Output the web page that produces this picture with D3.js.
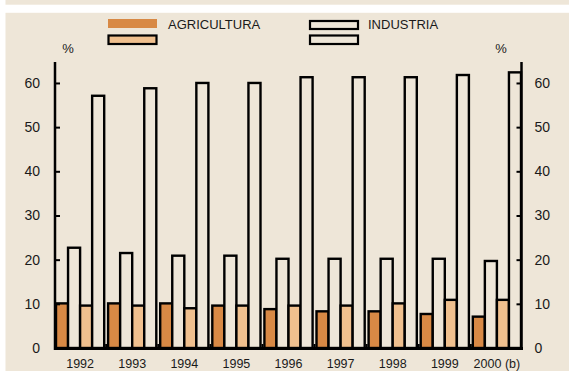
<!DOCTYPE html>
<html>
  <head>
    <meta charset="utf-8">
    <title>agricultura-industria</title>
    <script type="text/javascript" src="https://cdn.jsdelivr.net/npm/d3@7/dist/d3.min.js"></script>
    <style type="text/css">
            body { margin: 0; background: #ffffff; }
            svg text {
                font-family: "Liberation Sans", Arial, sans-serif;
                fill: #1a1a1a;
            }
            .axis path { display: none; }
            .axis line { stroke: #000; stroke-width: 2; }
            .axis text { font-size: 14px; }
    </style>
  </head>
  <body>
    <script type="text/javascript">
            var w = 569;
            var h = 371;

            // datos
            var years = ["1992", "1993", "1994", "1995", "1996", "1997", "1998", "1999", "2000 (b)"];
            var agri1 = [10.1, 10.1, 10.1, 9.6, 8.8, 8.3, 8.3, 7.7, 7.1];
            var ind1  = [22.7, 21.5, 20.9, 20.9, 20.2, 20.2, 20.2, 20.2, 19.7];
            var agri2 = [9.6, 9.6, 9.0, 9.6, 9.6, 9.6, 10.1, 10.9, 10.9];
            var ind2  = [57.1, 58.8, 60.0, 60.0, 61.3, 61.3, 61.3, 61.8, 62.4];
            var yTicks = [0, 10, 20, 30, 40, 50, 60];

            var bg = "#eee6d8";
            var dark = "#d88945";
            var light = "#f0c08e";

            var svg = d3.select("body")
                        .append("svg")
                        .attr("width", w)
                        .attr("height", h);

            // fondo
            svg.append("rect").attr("x", 5.5).attr("y", 0).attr("width", w).attr("height", 4.7).attr("fill", bg);
            svg.append("rect").attr("x", 5.5).attr("y", 12.8).attr("width", w).attr("height", h).attr("fill", bg);

            var x0 = d3.scaleBand()
                       .domain(years)
                       .range([56, 521])
                       .paddingInner(0.075)
                       .paddingOuter(0);
            var series = ["a1", "i1", "a2", "i2"];
            var x1 = d3.scaleBand()
                       .domain(series)
                       .range([0, x0.bandwidth()]);
            var y = d3.scaleLinear()
                      .domain([0, 64.7])
                      .range([348, 62.2]);

            var rows = years.map(function(yr, i) {
                return [
                    { year: yr, key: "a1", v: agri1[i], fill: dark },
                    { year: yr, key: "i1", v: ind1[i], fill: bg },
                    { year: yr, key: "a2", v: agri2[i], fill: light },
                    { year: yr, key: "i2", v: ind2[i], fill: bg }
                ];
            });

            // barras
            svg.append("g")
               .selectAll("g")
               .data(rows)
               .enter()
               .append("g")
               .selectAll("rect")
               .data(function(d) { return d; })
               .enter()
               .append("rect")
               .attr("x", function(d) { return x0(d.year) + x1(d.key); })
               .attr("y", function(d) { return y(d.v); })
               .attr("width", x1.bandwidth())
               .attr("height", function(d) { return y(0) - y(d.v); })
               .attr("fill", function(d) { return d.fill; })
               .attr("stroke", "#000")
               .attr("stroke-width", 2.4);

            // ejes
            var left = svg.append("g")
                .attr("class", "axis")
                .attr("transform", "translate(55,0)")
                .call(d3.axisRight(y).tickValues(yTicks).tickSize(5).tickFormat(d3.format("d")));
            left.selectAll("text").attr("x", -15).attr("text-anchor", "end");

            var right = svg.append("g")
                .attr("class", "axis")
                .attr("transform", "translate(521.5,0)")
                .call(d3.axisLeft(y).tickValues(yTicks).tickSize(5).tickFormat(d3.format("d")));
            right.selectAll("text").attr("x", 13).attr("text-anchor", "start");

            svg.append("line").attr("x1", 55).attr("x2", 55).attr("y1", 62).attr("y2", 350)
               .attr("stroke", "#000").attr("stroke-width", 2.5);
            svg.append("line").attr("x1", 521.5).attr("x2", 521.5).attr("y1", 62).attr("y2", 350)
               .attr("stroke", "#000").attr("stroke-width", 2.5);
            svg.append("line").attr("x1", 54).attr("x2", 523).attr("y1", y(0) + 0.5).attr("y2", y(0) + 0.5)
               .attr("stroke", "#000").attr("stroke-width", 3);

            // separadores entre años
            svg.append("g")
               .selectAll("line")
               .data(years.slice(1))
               .enter()
               .append("line")
               .attr("x1", function(d) { return x0(d) - x0.step() * x0.paddingInner() / 2; })
               .attr("x2", function(d) { return x0(d) - x0.step() * x0.paddingInner() / 2; })
               .attr("y1", y(0) - 4)
               .attr("y2", y(0))
               .attr("stroke", "#000")
               .attr("stroke-width", 2);

            // etiquetas de años
            svg.append("g")
               .selectAll("text")
               .data(years)
               .enter()
               .append("text")
               .attr("x", function(d) { return x0(d) + x0.bandwidth() / 2; })
               .attr("y", 367.5)
               .attr("text-anchor", "middle")
               .attr("font-size", "12.5px")
               .text(function(d) { return d; });

            svg.append("text").attr("x", 68).attr("y", 53).attr("text-anchor", "middle")
               .attr("font-size", "13px").text("%");
            svg.append("text").attr("x", 501).attr("y", 53).attr("text-anchor", "middle")
               .attr("font-size", "13px").text("%");

            // leyenda
            svg.append("rect").attr("x", 108).attr("y", 19).attr("width", 49).attr("height", 9).attr("fill", dark);
            svg.append("rect").attr("x", 108.5).attr("y", 35.5).attr("width", 48).attr("height", 8.5)
               .attr("fill", light).attr("stroke", "#000").attr("stroke-width", 2.2);
            svg.append("text").attr("x", 168).attr("y", 29).attr("font-size", "13px").text("AGRICULTURA");

            svg.append("rect").attr("x", 310).attr("y", 21).attr("width", 48).attr("height", 8)
               .attr("fill", bg).attr("stroke", "#000").attr("stroke-width", 2.2);
            svg.append("rect").attr("x", 310).attr("y", 35.5).attr("width", 48).attr("height", 8.5)
               .attr("fill", bg).attr("stroke", "#000").attr("stroke-width", 2.2);
            svg.append("text").attr("x", 368).attr("y", 29).attr("font-size", "13px").text("INDUSTRIA");
    </script>
  </body>
</html>
